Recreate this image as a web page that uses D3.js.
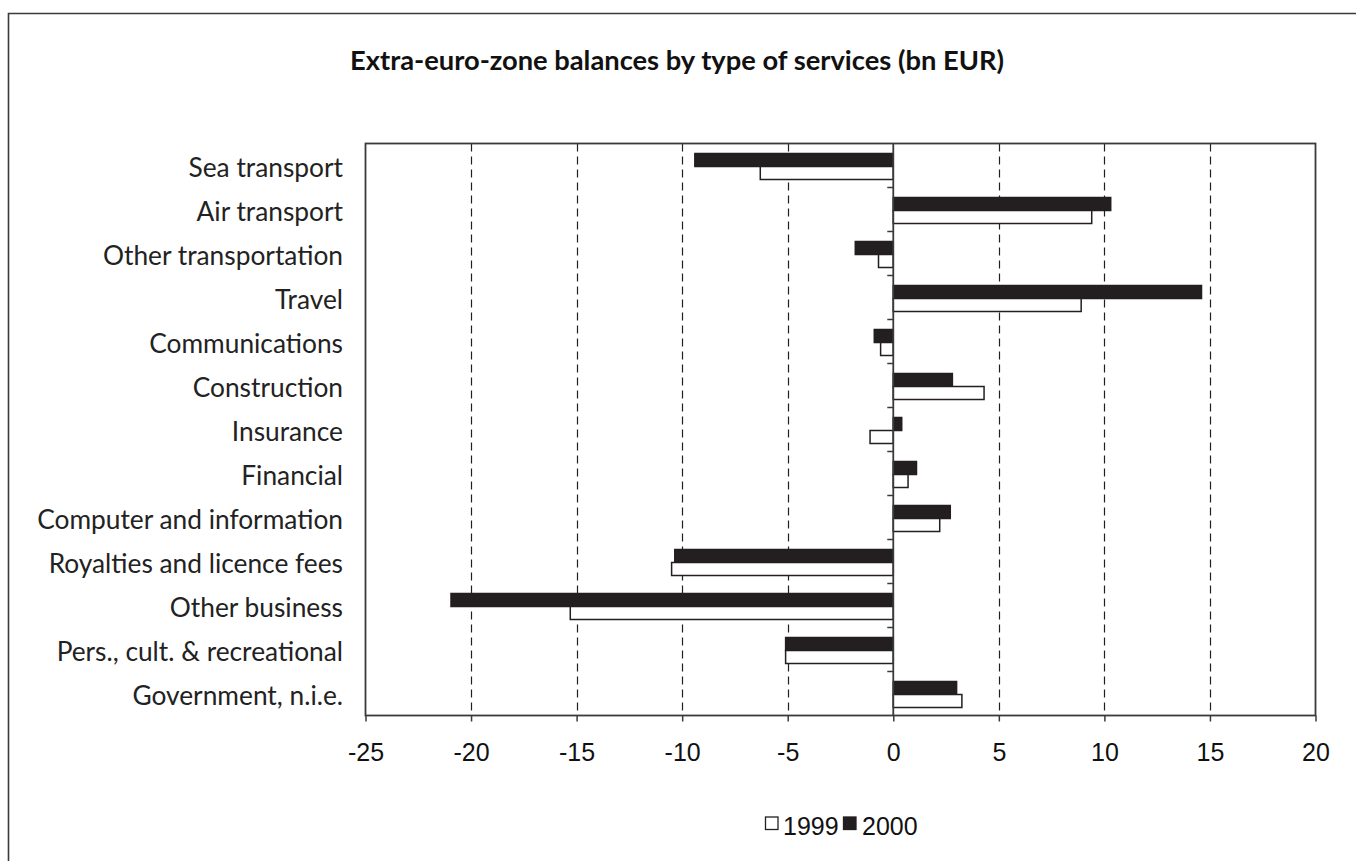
<!DOCTYPE html>
<html>
<head>
<meta charset="utf-8">
<script src="https://cdn.jsdelivr.net/npm/d3@7"></script>
<style>
  html, body { margin: 0; padding: 0; background: #fff; }
  svg { display: block; }
</style>
</head>
<body>
<svg id="chart" width="1356" height="861"></svg>
<script>
const title = "Extra-euro-zone balances by type of services (bn EUR)";
const categories = [
  "Sea transport", "Air transport", "Other transportation", "Travel",
  "Communications", "Construction", "Insurance", "Financial",
  "Computer and information", "Royalties and licence fees",
  "Other business", "Pers., cult. & recreational", "Government, n.i.e."
];
const seriesNames = ["1999", "2000"];
const values1999 = [-6.3, 9.4, -0.7, 8.9, -0.6, 4.3, -1.1, 0.7, 2.2, -10.5, -15.3, -5.1, 3.25];
const values2000 = [-9.4, 10.3, -1.8, 14.6, -0.9, 2.8, 0.4, 1.1, 2.7, -10.35, -20.95, -5.1, 3.0];
const xTicks = [-25, -20, -15, -10, -5, 0, 5, 10, 15, 20];

const ink = "#231f20";
const frame = "#3a3a3a";
const labelFont = "Lato, 'Open Sans', sans-serif";
const tickFont = "'Liberation Sans Narrow', 'Arial Narrow', 'Liberation Sans', sans-serif";

const svg = d3.select("#chart");
const W = 1356, H = 861;
const plot = { left: 365.5, right: 1315.5, top: 143.5, bottom: 715.5 };

// outer frame (top and left edges)
svg.append("path")
  .attr("d", `M8.5,${H} L8.5,13.5 L${W},13.5`)
  .attr("fill", "none").attr("stroke", frame).attr("stroke-width", 1.6);

// title
svg.append("text")
  .attr("x", 677).attr("y", 70)
  .attr("text-anchor", "middle")
  .attr("font-family", labelFont)
  .attr("font-weight", 700)
  .attr("font-size", 27.3)
  .attr("fill", "#111")
  .text(title);

const x = d3.scaleLinear().domain([-25, 20]).range([plot.left, plot.right]);
const y = d3.scaleBand().domain(categories).range([plot.top, plot.bottom]).padding(0);
const inner = d3.scaleBand().domain(["2000", "1999"]).range([10, 36]).padding(0);

// dashed gridlines
svg.append("g").selectAll("line")
  .data(xTicks.filter(t => t !== 0 && t !== -25 && t !== 20))
  .join("line")
  .attr("x1", d => Math.round(x(d)) + 0.5).attr("x2", d => Math.round(x(d)) + 0.5)
  .attr("y1", plot.top).attr("y2", plot.bottom)
  .attr("stroke", ink).attr("stroke-width", 1.2)
  .attr("stroke-dasharray", "8,5");

// plot border
svg.append("rect")
  .attr("x", plot.left).attr("y", plot.top)
  .attr("width", plot.right - plot.left).attr("height", plot.bottom - plot.top)
  .attr("fill", "none").attr("stroke", frame).attr("stroke-width", 1.8);

// bars
const rows = categories.map((c, i) => ({ c, v1999: values1999[i], v2000: values2000[i] }));
const bars = [];
rows.forEach(r => {
  bars.push({ c: r.c, s: "2000", v: r.v2000 });
  bars.push({ c: r.c, s: "1999", v: r.v1999 });
});
svg.append("g").selectAll("rect")
  .data(bars)
  .join("rect")
  .attr("x", d => x(Math.min(0, d.v)))
  .attr("y", d => y(d.c) + inner(d.s))
  .attr("width", d => Math.abs(x(d.v) - x(0)))
  .attr("height", inner.bandwidth())
  .attr("fill", d => d.s === "2000" ? ink : "#fff")
  .attr("stroke", ink)
  .attr("stroke-width", 1.5);

// zero axis with category ticks (pointing left)
svg.append("line")
  .attr("x1", x(0)).attr("x2", x(0))
  .attr("y1", plot.top).attr("y2", plot.bottom)
  .attr("stroke", frame).attr("stroke-width", 1.8);
svg.append("g").selectAll("line")
  .data(categories.slice(1))
  .join("line")
  .attr("x1", x(0) - 6).attr("x2", x(0))
  .attr("y1", d => y(d)).attr("y2", d => y(d))
  .attr("stroke", frame).attr("stroke-width", 1.5);

// category labels
svg.append("g").selectAll("text")
  .data(categories)
  .join("text")
  .attr("x", 343)
  .attr("y", d => y(d) + y.bandwidth() / 2 + 1)
  .attr("text-anchor", "end")
  .attr("dominant-baseline", "central")
  .attr("font-family", labelFont)
  .attr("font-weight", 400)
  .attr("font-size", 26.3)
  .attr("fill", "#222")
  .text(d => d);

// x axis
const xAxis = d3.axisBottom(x).tickValues(xTicks).tickSize(6).tickPadding(22).tickFormat(d3.format("d"));
const gx = svg.append("g")
  .attr("transform", `translate(0,${plot.bottom})`)
  .call(xAxis);
gx.select(".domain").remove();
gx.selectAll(".tick line").attr("stroke", frame).attr("stroke-width", 1.5);
gx.selectAll(".tick text")
  .attr("font-family", tickFont)
  .attr("font-size", 25)
  .attr("fill", "#111")
  .text(d => d < 0 ? "-" + Math.abs(d) : d);

// legend
const legend = svg.append("g");
const legendItems = [
  { s: "1999", fill: "#fff", sx: 765, tx: 783 },
  { s: "2000", fill: ink, sx: 843, tx: 862 }
];
legend.selectAll("rect")
  .data(legendItems)
  .join("rect")
  .attr("x", d => d.sx + 0.5).attr("y", 817)
  .attr("width", 12.5).attr("height", 12.5)
  .attr("fill", d => d.fill)
  .attr("stroke", ink).attr("stroke-width", 1.3);
legend.selectAll("text")
  .data(legendItems)
  .join("text")
  .attr("x", d => d.tx).attr("y", 835)
  .attr("font-family", tickFont)
  .attr("font-size", 25)
  .attr("fill", "#111")
  .text(d => d.s);
</script>
</body>
</html>
